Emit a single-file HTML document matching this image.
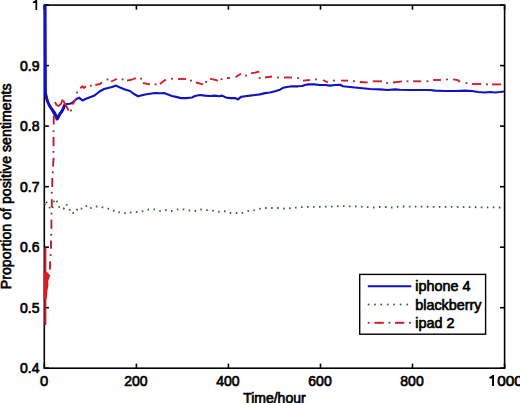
<!DOCTYPE html>
<html><head><meta charset="utf-8"><style>
html,body{margin:0;padding:0;background:#fff;width:520px;height:403px;overflow:hidden}
svg{display:block}
text{font-family:"Liberation Sans", sans-serif;font-size:14px;fill:#000;stroke:#000;stroke-width:0.65px}
</style></head><body>
<svg width="520" height="403" viewBox="0 0 520 403">
<rect width="520" height="403" fill="#fff"/>
<g stroke="#000" stroke-width="1.6" fill="none">
<rect x="44.3" y="5.1" width="460.3" height="363.1"/>
<line x1="44.3" y1="368.2" x2="44.3" y2="363.6"/><line x1="44.3" y1="5.1" x2="44.3" y2="9.7"/><line x1="136.4" y1="368.2" x2="136.4" y2="363.6"/><line x1="136.4" y1="5.1" x2="136.4" y2="9.7"/><line x1="228.4" y1="368.2" x2="228.4" y2="363.6"/><line x1="228.4" y1="5.1" x2="228.4" y2="9.7"/><line x1="320.5" y1="368.2" x2="320.5" y2="363.6"/><line x1="320.5" y1="5.1" x2="320.5" y2="9.7"/><line x1="412.5" y1="368.2" x2="412.5" y2="363.6"/><line x1="412.5" y1="5.1" x2="412.5" y2="9.7"/><line x1="504.6" y1="368.2" x2="504.6" y2="363.6"/><line x1="504.6" y1="5.1" x2="504.6" y2="9.7"/><line x1="44.3" y1="368.2" x2="48.9" y2="368.2"/><line x1="504.6" y1="368.2" x2="500.0" y2="368.2"/><line x1="44.3" y1="307.7" x2="48.9" y2="307.7"/><line x1="504.6" y1="307.7" x2="500.0" y2="307.7"/><line x1="44.3" y1="247.2" x2="48.9" y2="247.2"/><line x1="504.6" y1="247.2" x2="500.0" y2="247.2"/><line x1="44.3" y1="186.7" x2="48.9" y2="186.7"/><line x1="504.6" y1="186.7" x2="500.0" y2="186.7"/><line x1="44.3" y1="126.1" x2="48.9" y2="126.1"/><line x1="504.6" y1="126.1" x2="500.0" y2="126.1"/><line x1="44.3" y1="65.6" x2="48.9" y2="65.6"/><line x1="504.6" y1="65.6" x2="500.0" y2="65.6"/><line x1="44.3" y1="5.1" x2="48.9" y2="5.1"/><line x1="504.6" y1="5.1" x2="500.0" y2="5.1"/>
</g>
<g fill="none" stroke-linejoin="round">
<polyline points="44.8,205.0 45.5,200.5 47.5,204.0 49.0,206.5 51.0,210.0 52.5,208.0 54.5,199.0 58.0,202.5 59.5,208.0 63.5,209.0 66.0,204.0 69.0,207.0 70.5,213.0 75.6,213.0 78.0,207.5 83.0,209.0 87.5,205.0 91.0,208.0 96.0,206.5 101.0,207.0 106.0,208.5 112.0,209.4 116.0,212.5 121.5,212.0 127.0,213.8 132.0,212.0 138.0,212.0 143.5,211.0 149.0,209.4 155.0,209.4 161.0,211.3 166.5,210.0 172.0,211.0 178.0,209.4 184.0,209.4 190.0,210.6 196.0,211.0 200.0,209.4 206.0,210.0 212.5,210.6 218.0,211.9 224.5,211.2 229.5,213.0 235.6,213.0 242.0,213.0 248.0,211.0 253.0,210.6 259.0,209.0 265.6,208.0 272.0,208.0 278.0,208.0 284.5,208.6 291.0,208.1 297.0,207.5 303.0,207.0 334.0,206.6 340.6,206.0 347.0,206.3 353.0,206.3 359.0,206.6 366.0,207.0 373.0,207.5 380.0,207.0 386.0,207.0 392.0,207.5 398.6,206.5 404.0,206.5 430.0,206.8 461.5,207.0 481.0,207.3 501.0,207.5" stroke="#2d6a30" stroke-width="1.8" stroke-dasharray="1.6 4.4"/>
<polyline points="45.2,5.5 45.3,60.0 45.6,93.0 46.0,95.0 47.0,98.0 48.0,103.0 50.0,106.5 52.0,110.0 53.5,113.0 55.0,115.0 56.5,118.0 57.5,119.0 59.0,116.0 61.0,113.0 63.0,110.0 65.0,105.0 67.0,104.0 70.0,103.8 72.0,103.0 76.5,99.0 79.0,97.7 82.5,100.4 86.0,98.8 90.0,97.3 94.0,95.8 97.0,93.5 100.0,91.2 104.0,89.0 108.0,88.0 112.0,87.0 116.0,85.6 120.0,87.5 125.0,89.4 130.0,91.0 134.0,94.0 138.0,96.3 143.0,95.0 148.0,94.0 155.0,93.0 160.0,93.2 164.0,93.0 168.0,94.4 172.0,96.0 176.0,96.9 181.0,98.1 186.0,98.1 192.0,97.5 195.0,96.0 200.0,95.0 205.0,95.6 210.0,96.0 215.0,95.6 219.0,96.3 222.0,95.6 226.0,97.5 230.0,98.1 235.0,98.1 238.0,99.4 241.0,96.9 245.0,96.3 250.0,95.6 255.0,95.0 260.0,94.4 265.0,93.1 270.0,92.5 275.0,91.3 280.0,89.7 283.0,87.8 287.0,87.0 292.0,86.3 298.0,86.3 302.0,86.0 305.0,85.0 308.0,84.4 314.0,84.4 320.0,85.0 325.0,85.0 330.0,85.6 335.0,85.0 340.0,84.7 343.0,86.3 350.0,87.0 360.0,88.0 370.0,89.0 380.0,89.4 388.0,90.0 395.0,89.4 400.0,89.7 410.0,90.0 420.0,90.0 430.0,90.0 435.0,90.6 445.0,91.0 455.0,91.0 465.0,90.6 472.0,91.0 478.0,92.0 485.0,92.5 490.0,92.0 495.0,92.5 500.0,92.0 504.0,91.5" stroke="#1212c2" stroke-width="2.15"/>
<line x1="45.1" y1="5.5" x2="45.4" y2="94" stroke="#1212c2" stroke-width="2.6"/>
<polyline points="45.4,92 46.0,96 46.8,99.5 49.0,104.7 51.3,108.4 54.6,112.9 56.3,116.4 57.0,119.0 58.3,117.0 60.0,113.5 62.0,111.0 64.0,106.5 65.0,104.5" stroke="#1212c2" stroke-width="2.9" fill="none" stroke-linejoin="round"/>
<polyline points="53.8,115.4 53.7,124.6" fill="none" stroke="#b81a2e" stroke-width="1.85" stroke-linejoin="round"/><rect x="52.60" y="130.30" width="1.8" height="1.8" fill="#9a2436"/><polyline points="53.5,136.9 53.5,146.2" fill="none" stroke="#b81a2e" stroke-width="1.85" stroke-linejoin="round"/><rect x="52.60" y="151.00" width="1.8" height="1.8" fill="#9a2436"/><polyline points="53.6,157.7 53.0,166.5" fill="none" stroke="#b81a2e" stroke-width="1.85" stroke-linejoin="round"/><rect x="51.90" y="171.40" width="1.8" height="1.8" fill="#9a2436"/><polyline points="52.3,178.0 52.2,187.0" fill="none" stroke="#b81a2e" stroke-width="1.85" stroke-linejoin="round"/><rect x="50.90" y="191.80" width="1.8" height="1.8" fill="#9a2436"/><polyline points="51.8,199.2 51.8,207.3" fill="none" stroke="#b81a2e" stroke-width="1.85" stroke-linejoin="round"/><rect x="50.60" y="212.60" width="1.8" height="1.8" fill="#9a2436"/><polyline points="51.4,219.6 51.4,228.8" fill="none" stroke="#b81a2e" stroke-width="1.85" stroke-linejoin="round"/><rect x="50.30" y="233.90" width="1.8" height="1.8" fill="#9a2436"/><polyline points="51.0,240.4 51.0,248.8" fill="none" stroke="#b81a2e" stroke-width="1.85" stroke-linejoin="round"/><rect x="49.70" y="254.10" width="1.8" height="1.8" fill="#9a2436"/><polyline points="50.2,261.2 49.8,269.6" fill="none" stroke="#b81a2e" stroke-width="1.85" stroke-linejoin="round"/><polyline points="55.0,102.0 56.5,105.0 58.5,106.0 61.0,104.0 62.5,99.5" fill="none" stroke="#d81c26" stroke-width="1.85" stroke-linejoin="round"/><polyline points="63.2,100.5 65.0,104.0 67.0,107.5 68.5,110.5" fill="none" stroke="#d81c26" stroke-width="1.85" stroke-linejoin="round"/><rect x="70.10" y="109.60" width="1.8" height="1.8" fill="#9a2436"/><polyline points="72.5,104.5 73.5,103.0 75.8,99.0" fill="none" stroke="#d81c26" stroke-width="1.85" stroke-linejoin="round"/><rect x="76.10" y="91.60" width="1.8" height="1.8" fill="#9a2436"/><polyline points="80.3,88.3 82.5,86.3 84.0,88.0 86.0,86.3" fill="none" stroke="#d81c26" stroke-width="1.85" stroke-linejoin="round"/><rect x="89.90" y="84.80" width="1.8" height="1.8" fill="#9a2436"/><polyline points="95.3,85.0 100.0,84.0 102.0,82.3" fill="none" stroke="#d81c26" stroke-width="1.85" stroke-linejoin="round"/><rect x="106.60" y="78.60" width="1.8" height="1.8" fill="#9a2436"/><polyline points="111.0,81.5 117.0,79.0" fill="none" stroke="#d81c26" stroke-width="1.85" stroke-linejoin="round"/><rect x="121.60" y="78.50" width="1.8" height="1.8" fill="#9a2436"/><polyline points="127.0,80.6 132.0,79.5 136.0,78.1" fill="none" stroke="#d81c26" stroke-width="1.85" stroke-linejoin="round"/><rect x="140.10" y="77.80" width="1.8" height="1.8" fill="#9a2436"/><polyline points="143.0,83.0 150.0,84.4" fill="none" stroke="#d81c26" stroke-width="1.85" stroke-linejoin="round"/><rect x="154.70" y="83.50" width="1.8" height="1.8" fill="#9a2436"/><polyline points="160.0,84.0 163.0,81.5 166.0,79.4" fill="none" stroke="#d81c26" stroke-width="1.85" stroke-linejoin="round"/><rect x="171.10" y="77.80" width="1.8" height="1.8" fill="#9a2436"/><polyline points="178.0,79.0 186.0,79.0" fill="none" stroke="#d81c26" stroke-width="1.85" stroke-linejoin="round"/><rect x="190.10" y="79.70" width="1.8" height="1.8" fill="#9a2436"/><polyline points="196.0,82.5 203.0,84.4" fill="none" stroke="#d81c26" stroke-width="1.85" stroke-linejoin="round"/><rect x="205.10" y="81.00" width="1.8" height="1.8" fill="#9a2436"/><polyline points="210.0,78.7 218.0,80.6" fill="none" stroke="#d81c26" stroke-width="1.85" stroke-linejoin="round"/><rect x="220.60" y="78.30" width="1.8" height="1.8" fill="#9a2436"/><polyline points="226.8,78.1 230.0,78.0" fill="none" stroke="#d81c26" stroke-width="1.85" stroke-linejoin="round"/><polyline points="235.5,77.3 238.0,75.5 241.0,73.8" fill="none" stroke="#d81c26" stroke-width="1.85" stroke-linejoin="round"/><rect x="245.10" y="74.70" width="1.8" height="1.8" fill="#9a2436"/><polyline points="251.0,73.4 255.0,72.6 259.2,71.5" fill="none" stroke="#d81c26" stroke-width="1.85" stroke-linejoin="round"/><rect x="258.80" y="77.10" width="1.8" height="1.8" fill="#9a2436"/><polyline points="265.0,77.5 272.0,76.5" fill="none" stroke="#d81c26" stroke-width="1.85" stroke-linejoin="round"/><rect x="277.10" y="76.60" width="1.8" height="1.8" fill="#9a2436"/><polyline points="284.0,77.5 292.0,77.5" fill="none" stroke="#d81c26" stroke-width="1.85" stroke-linejoin="round"/><rect x="297.10" y="77.20" width="1.8" height="1.8" fill="#9a2436"/><polyline points="303.0,80.6 310.0,80.0" fill="none" stroke="#d81c26" stroke-width="1.85" stroke-linejoin="round"/><rect x="315.10" y="78.50" width="1.8" height="1.8" fill="#9a2436"/><polyline points="323.0,80.0 328.0,82.5" fill="none" stroke="#d81c26" stroke-width="1.85" stroke-linejoin="round"/><rect x="333.10" y="79.70" width="1.8" height="1.8" fill="#9a2436"/><polyline points="341.0,80.6 348.0,80.6" fill="none" stroke="#d81c26" stroke-width="1.85" stroke-linejoin="round"/><rect x="353.10" y="80.30" width="1.8" height="1.8" fill="#9a2436"/><polyline points="359.8,82.0 367.7,82.3" fill="none" stroke="#d81c26" stroke-width="1.85" stroke-linejoin="round"/><polyline points="372.8,81.3 382.0,81.3" fill="none" stroke="#d81c26" stroke-width="1.85" stroke-linejoin="round"/><rect x="386.20" y="82.10" width="1.8" height="1.8" fill="#9a2436"/><polyline points="393.0,82.5 402.0,81.3" fill="none" stroke="#d81c26" stroke-width="1.85" stroke-linejoin="round"/><rect x="406.60" y="80.40" width="1.8" height="1.8" fill="#9a2436"/><polyline points="413.0,81.3 421.0,81.3" fill="none" stroke="#d81c26" stroke-width="1.85" stroke-linejoin="round"/><rect x="426.60" y="80.40" width="1.8" height="1.8" fill="#9a2436"/><polyline points="433.0,80.0 441.0,80.0" fill="none" stroke="#d81c26" stroke-width="1.85" stroke-linejoin="round"/><rect x="446.10" y="78.50" width="1.8" height="1.8" fill="#9a2436"/><polyline points="453.0,79.4 458.0,80.2 460.0,82.0" fill="none" stroke="#d81c26" stroke-width="1.85" stroke-linejoin="round"/><rect x="465.60" y="82.20" width="1.8" height="1.8" fill="#9a2436"/><polyline points="472.0,84.0 481.0,84.0" fill="none" stroke="#d81c26" stroke-width="1.85" stroke-linejoin="round"/><rect x="486.10" y="83.50" width="1.8" height="1.8" fill="#9a2436"/><polyline points="492.0,84.4 501.0,84.4" fill="none" stroke="#d81c26" stroke-width="1.85" stroke-linejoin="round"/>
<line x1="45.3" y1="247.5" x2="45.3" y2="325" stroke="#c41a2a" stroke-width="2.1"/>
<polygon points="43.6,272 46.5,271.5 48.5,273.5 50.3,275.5 49.3,278 48.3,281 48.4,286 47.5,290.3 47,295 46.5,299 43.6,299" fill="#d81c26"/>
</g>
<g><text x="135.9" y="385.7" text-anchor="middle">200</text><text x="227.9" y="385.7" text-anchor="middle">400</text><text x="320.0" y="385.7" text-anchor="middle">600</text><text x="412.0" y="385.7" text-anchor="middle">800</text><text x="44.0" y="386.0" text-anchor="middle" style="font-size:14.8px">0</text><text x="497.15" y="386.0" style="font-size:15.4px">000</text><polygon points="494.00,375.00 494.00,386.00 492.07,386.00 492.07,378.41 489.32,378.41 489.32,376.98 491.08,376.32 492.30,375.00" fill="#000"/><text x="39.5" y="373.3" text-anchor="end">0.4</text><text x="39.5" y="312.8" text-anchor="end">0.5</text><text x="39.5" y="252.3" text-anchor="end">0.6</text><text x="39.5" y="191.8" text-anchor="end">0.7</text><text x="39.5" y="131.3" text-anchor="end">0.8</text><text x="39.5" y="70.8" text-anchor="end">0.9</text><polygon points="37.20,-0.10 37.20,10.00 35.45,10.00 35.45,3.00 32.95,3.00 32.95,1.70 34.55,1.10 35.65,-0.10" fill="#000"/></g>
<text x="274.4" y="402.8" text-anchor="middle">Time/hour</text>
<text transform="translate(10.9,186.3) rotate(-90)" text-anchor="middle" style="font-size:14.2px">Proportion of positive sentiments</text>
<rect x="359.7" y="274.4" width="125.9" height="59.8" fill="#fff" stroke="#000" stroke-width="1.4"/>
<line x1="367.8" y1="286.3" x2="411.3" y2="286.3" stroke="#1212c2" stroke-width="2.0"/>
<rect x="367.75" y="303.65" width="1.7" height="1.7" fill="#2d6a30"/><rect x="374.15" y="303.65" width="1.7" height="1.7" fill="#2d6a30"/><rect x="380.40" y="303.65" width="1.7" height="1.7" fill="#2d6a30"/><rect x="386.90" y="303.65" width="1.7" height="1.7" fill="#2d6a30"/><rect x="393.15" y="303.65" width="1.7" height="1.7" fill="#2d6a30"/><rect x="399.75" y="303.65" width="1.7" height="1.7" fill="#2d6a30"/><rect x="406.35" y="303.65" width="1.7" height="1.7" fill="#2d6a30"/>
<rect x="367.70" y="321.85" width="1.8" height="1.8" fill="#9a2436"/><polyline points="374.4,322.8 383.8,322.8" fill="none" stroke="#d81c26" stroke-width="2.0" stroke-linejoin="round"/><rect x="388.50" y="321.85" width="1.8" height="1.8" fill="#9a2436"/><polyline points="395.0,322.8 404.4,322.8" fill="none" stroke="#d81c26" stroke-width="2.0" stroke-linejoin="round"/><rect x="409.10" y="321.85" width="1.8" height="1.8" fill="#9a2436"/>
<g><text x="415.2" y="291.4" style="font-size:14.4px">iphone 4</text>
<text x="415.2" y="309.6" style="font-size:14.4px">blackberry</text>
<text x="415.2" y="327.9" style="font-size:14.4px">ipad 2</text></g>
</svg>
</body></html>
